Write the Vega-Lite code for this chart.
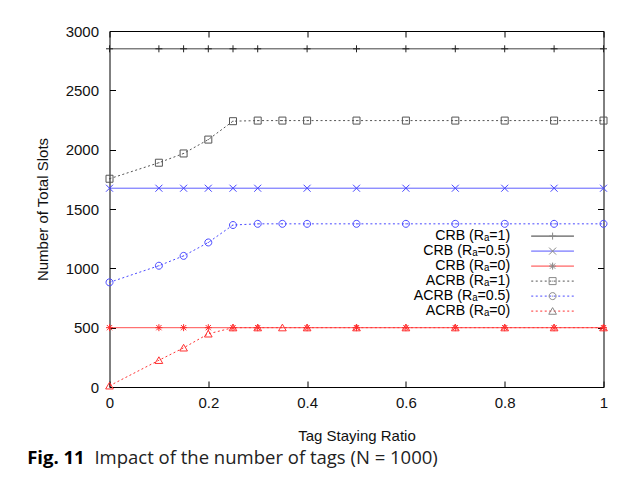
{
  "$schema": "https://vega.github.io/schema/vega-lite/v6.json",
  "width": 494,
  "height": 356,
  "padding": {"left": 26.5, "top": 24, "right": 22, "bottom": 5},
  "background": "white",
  "title": {
    "text": "Fig. 11",
    "subtitle": "\u200b\u00a0\u00a0\u00a0\u00a0\u00a0\u00a0\u00a0\u00a0\u00a0\u00a0\u00a0\u00a0\u00a0\u00a0Impact of the number of tags (N = 1000)",
    "orient": "bottom",
    "anchor": "start",
    "frame": "bounds",
    "font": "Open Sans",
    "fontSize": 18.5,
    "fontWeight": "bold",
    "color": "#000",
    "subtitleFont": "Open Sans",
    "subtitleFontSize": 18.5,
    "subtitleColor": "#222",
    "subtitlePadding": -18.5,
    "offset": 6,
    "dx": -8
  },
  "data": {
    "values": [
      {"x": 0, "y": 2850, "s": "CRB (Rₐ=1)"},
      {"x": 0.1, "y": 2850, "s": "CRB (Rₐ=1)"},
      {"x": 0.15, "y": 2850, "s": "CRB (Rₐ=1)"},
      {"x": 0.2, "y": 2850, "s": "CRB (Rₐ=1)"},
      {"x": 0.25, "y": 2850, "s": "CRB (Rₐ=1)"},
      {"x": 0.3, "y": 2850, "s": "CRB (Rₐ=1)"},
      {"x": 0.4, "y": 2850, "s": "CRB (Rₐ=1)"},
      {"x": 0.5, "y": 2850, "s": "CRB (Rₐ=1)"},
      {"x": 0.6, "y": 2850, "s": "CRB (Rₐ=1)"},
      {"x": 0.7, "y": 2850, "s": "CRB (Rₐ=1)"},
      {"x": 0.8, "y": 2850, "s": "CRB (Rₐ=1)"},
      {"x": 0.9, "y": 2850, "s": "CRB (Rₐ=1)"},
      {"x": 1, "y": 2850, "s": "CRB (Rₐ=1)"},
      {"x": 0, "y": 1675, "s": "CRB (Rₐ=0.5)"},
      {"x": 0.1, "y": 1675, "s": "CRB (Rₐ=0.5)"},
      {"x": 0.15, "y": 1675, "s": "CRB (Rₐ=0.5)"},
      {"x": 0.2, "y": 1675, "s": "CRB (Rₐ=0.5)"},
      {"x": 0.25, "y": 1675, "s": "CRB (Rₐ=0.5)"},
      {"x": 0.3, "y": 1675, "s": "CRB (Rₐ=0.5)"},
      {"x": 0.4, "y": 1675, "s": "CRB (Rₐ=0.5)"},
      {"x": 0.5, "y": 1675, "s": "CRB (Rₐ=0.5)"},
      {"x": 0.6, "y": 1675, "s": "CRB (Rₐ=0.5)"},
      {"x": 0.7, "y": 1675, "s": "CRB (Rₐ=0.5)"},
      {"x": 0.8, "y": 1675, "s": "CRB (Rₐ=0.5)"},
      {"x": 0.9, "y": 1675, "s": "CRB (Rₐ=0.5)"},
      {"x": 1, "y": 1675, "s": "CRB (Rₐ=0.5)"},
      {"x": 0, "y": 1755, "s": "ACRB (Rₐ=1)"},
      {"x": 0.1, "y": 1890, "s": "ACRB (Rₐ=1)"},
      {"x": 0.15, "y": 1968, "s": "ACRB (Rₐ=1)"},
      {"x": 0.2, "y": 2085, "s": "ACRB (Rₐ=1)"},
      {"x": 0.25, "y": 2240, "s": "ACRB (Rₐ=1)"},
      {"x": 0.3, "y": 2245, "s": "ACRB (Rₐ=1)"},
      {"x": 0.35, "y": 2245, "s": "ACRB (Rₐ=1)"},
      {"x": 0.4, "y": 2245, "s": "ACRB (Rₐ=1)"},
      {"x": 0.5, "y": 2245, "s": "ACRB (Rₐ=1)"},
      {"x": 0.6, "y": 2245, "s": "ACRB (Rₐ=1)"},
      {"x": 0.7, "y": 2245, "s": "ACRB (Rₐ=1)"},
      {"x": 0.8, "y": 2245, "s": "ACRB (Rₐ=1)"},
      {"x": 0.9, "y": 2245, "s": "ACRB (Rₐ=1)"},
      {"x": 1, "y": 2245, "s": "ACRB (Rₐ=1)"},
      {"x": 0, "y": 882, "s": "ACRB (Rₐ=0.5)"},
      {"x": 0.1, "y": 1022, "s": "ACRB (Rₐ=0.5)"},
      {"x": 0.15, "y": 1105, "s": "ACRB (Rₐ=0.5)"},
      {"x": 0.2, "y": 1218, "s": "ACRB (Rₐ=0.5)"},
      {"x": 0.25, "y": 1365, "s": "ACRB (Rₐ=0.5)"},
      {"x": 0.3, "y": 1375, "s": "ACRB (Rₐ=0.5)"},
      {"x": 0.35, "y": 1375, "s": "ACRB (Rₐ=0.5)"},
      {"x": 0.4, "y": 1375, "s": "ACRB (Rₐ=0.5)"},
      {"x": 0.5, "y": 1375, "s": "ACRB (Rₐ=0.5)"},
      {"x": 0.6, "y": 1375, "s": "ACRB (Rₐ=0.5)"},
      {"x": 0.7, "y": 1375, "s": "ACRB (Rₐ=0.5)"},
      {"x": 0.8, "y": 1375, "s": "ACRB (Rₐ=0.5)"},
      {"x": 0.9, "y": 1375, "s": "ACRB (Rₐ=0.5)"},
      {"x": 1, "y": 1375, "s": "ACRB (Rₐ=0.5)"},
      {"x": 0, "y": 500, "s": "CRB (Rₐ=0)"},
      {"x": 0.1, "y": 500, "s": "CRB (Rₐ=0)"},
      {"x": 0.15, "y": 500, "s": "CRB (Rₐ=0)"},
      {"x": 0.2, "y": 500, "s": "CRB (Rₐ=0)"},
      {"x": 0.25, "y": 500, "s": "CRB (Rₐ=0)"},
      {"x": 0.3, "y": 500, "s": "CRB (Rₐ=0)"},
      {"x": 0.4, "y": 500, "s": "CRB (Rₐ=0)"},
      {"x": 0.5, "y": 500, "s": "CRB (Rₐ=0)"},
      {"x": 0.6, "y": 500, "s": "CRB (Rₐ=0)"},
      {"x": 0.7, "y": 500, "s": "CRB (Rₐ=0)"},
      {"x": 0.8, "y": 500, "s": "CRB (Rₐ=0)"},
      {"x": 0.9, "y": 500, "s": "CRB (Rₐ=0)"},
      {"x": 1, "y": 500, "s": "CRB (Rₐ=0)"},
      {"x": 0, "y": 10, "s": "ACRB (Rₐ=0)"},
      {"x": 0.1, "y": 225, "s": "ACRB (Rₐ=0)"},
      {"x": 0.15, "y": 330, "s": "ACRB (Rₐ=0)"},
      {"x": 0.2, "y": 448, "s": "ACRB (Rₐ=0)"},
      {"x": 0.25, "y": 500, "s": "ACRB (Rₐ=0)"},
      {"x": 0.3, "y": 500, "s": "ACRB (Rₐ=0)"},
      {"x": 0.35, "y": 500, "s": "ACRB (Rₐ=0)"},
      {"x": 0.4, "y": 500, "s": "ACRB (Rₐ=0)"},
      {"x": 0.5, "y": 500, "s": "ACRB (Rₐ=0)"},
      {"x": 0.6, "y": 500, "s": "ACRB (Rₐ=0)"},
      {"x": 0.7, "y": 500, "s": "ACRB (Rₐ=0)"},
      {"x": 0.8, "y": 500, "s": "ACRB (Rₐ=0)"},
      {"x": 0.9, "y": 500, "s": "ACRB (Rₐ=0)"},
      {"x": 1, "y": 500, "s": "ACRB (Rₐ=0)"}
    ]
  },
  "resolve": {"axis": {"x": "independent", "y": "independent"}},
  "layer": [
    {
      "mark": {"type": "line", "strokeWidth": 1, "clip": false},
      "encoding": {
        "x": {
          "field": "x", "type": "quantitative",
          "scale": {"domain": [0, 1], "nice": false, "zero": false},
          "axis": {
            "orient": "bottom", "values": [0, 0.2, 0.4, 0.6, 0.8, 1], "format": "~g",
            "title": "Tag Staying Ratio", "grid": false, "domain": false,
            "tickSize": -6, "tickColor": "#000", "labelPadding": 14, "labelFlush": false,
            "labelFont": "Liberation Sans", "labelFontSize": 15, "labelColor": "#111",
            "titleFont": "Liberation Sans", "titleFontSize": 15, "titleFontWeight": "normal", "titleColor": "#111", "titlePadding": 18
          }
        },
        "y": {
          "field": "y", "type": "quantitative",
          "scale": {"domain": [0, 3000], "nice": false},
          "axis": {
            "orient": "left", "values": [0, 500, 1000, 1500, 2000, 2500, 3000], "format": "d",
            "title": "Number of Total Slots", "grid": false, "domain": false,
            "tickSize": -6, "tickColor": "#000", "labelPadding": 17, "labelFlush": false,
            "labelFont": "Liberation Sans", "labelFontSize": 15, "labelColor": "#111",
            "titleFont": "Liberation Sans", "titleFontSize": 15, "titleFontWeight": "normal", "titleColor": "#111", "titlePadding": 15
          }
        },
        "color": {
          "field": "s", "type": "nominal",
          "scale": {
            "domain": ["CRB (Rₐ=1)", "CRB (Rₐ=0.5)", "CRB (Rₐ=0)", "ACRB (Rₐ=1)", "ACRB (Rₐ=0.5)", "ACRB (Rₐ=0)"],
            "range": ["#222222", "#4444ff", "#ff2a2a", "#555555", "#4a4aff", "#ff3030"]
          },
          "legend": {
            "orient": "none", "legendX": 436, "legendY": 198, "title": null,
            "symbolType": "M-6.1,0L6.1,0", "symbolSize": 49, "symbolStrokeWidth": 1, "symbolFillColor": "transparent",
            "labelAlign": "right", "labelOffset": -49.5, "labelFont": "Liberation Sans", "labelFontSize": 14.2, "labelColor": "#000", "labelLimit": 300,
            "padding": 0, "rowPadding": 0
          }
        },
        "strokeDash": {
          "field": "s", "type": "nominal",
          "scale": {
            "domain": ["CRB (Rₐ=1)", "CRB (Rₐ=0.5)", "CRB (Rₐ=0)", "ACRB (Rₐ=1)", "ACRB (Rₐ=0.5)", "ACRB (Rₐ=0)"],
            "range": [[1, 0], [1, 0], [1, 0], [2, 2.5], [2, 2.5], [2, 2.5]]
          },
          "legend": {
            "orient": "none", "legendX": 436, "legendY": 198, "title": null,
            "symbolType": "M-6.1,0L6.1,0", "symbolSize": 49, "symbolStrokeWidth": 1, "symbolFillColor": "transparent",
            "labelAlign": "right", "labelOffset": -49.5, "labelFont": "Liberation Sans", "labelFontSize": 14.2, "labelColor": "#000", "labelLimit": 300,
            "padding": 0, "rowPadding": 0
          }
        }
      }
    },
    {
      "mark": {"type": "point", "filled": false, "strokeWidth": 1, "size": 49, "opacity": 1, "clip": false},
      "encoding": {
        "x": {
          "field": "x", "type": "quantitative",
          "axis": {"orient": "top", "values": [0, 0.2, 0.4, 0.6, 0.8, 1], "labels": false, "title": null, "grid": false, "domain": false, "tickSize": -6, "tickColor": "#000"}
        },
        "y": {
          "field": "y", "type": "quantitative",
          "axis": {"orient": "right", "values": [0, 500, 1000, 1500, 2000, 2500, 3000], "labels": false, "title": null, "grid": false, "domain": false, "tickSize": -6, "tickColor": "#000"}
        },
        "color": {"field": "s", "type": "nominal"},
        "shape": {
          "field": "s", "type": "nominal", "sort": "descending",
          "scale": {
            "range": [
              "M-1,0L1,0M0,-1L0,1",
              "M-1,-1L1,1M-1,1L1,-1",
              "M-1,0L1,0M0,-1L0,1M-0.75,-0.75L0.75,0.75M-0.75,0.75L0.75,-0.75",
              "M-1,-1L1,-1L1,1L-1,1ZM-0.15,0L0.15,0",
              "M1,0A1,1,0,1,1,-1,0A1,1,0,1,1,1,0ZM-0.15,0L0.15,0",
              "M0,-1L1.1,0.9L-1.1,0.9Z"
            ]
          },
          "legend": {
            "orient": "none", "legendX": 436, "legendY": 198, "title": null,
            "symbolSize": 49, "symbolStrokeWidth": 1, "symbolFillColor": "transparent",
            "labelExpr": "''", "labelFontSize": 14.2, "labelFont": "Liberation Sans",
            "padding": 0, "rowPadding": 0,
            "encode": {"symbols": {"update": {"stroke": {"scale": "color", "field": "value"}, "fill": {"value": "transparent"}}}}
          }
        }
      }
    }
  ],
  "config": {
    "view": {"stroke": "#000", "strokeWidth": 1},
    "font": "Liberation Sans"
  }
}
